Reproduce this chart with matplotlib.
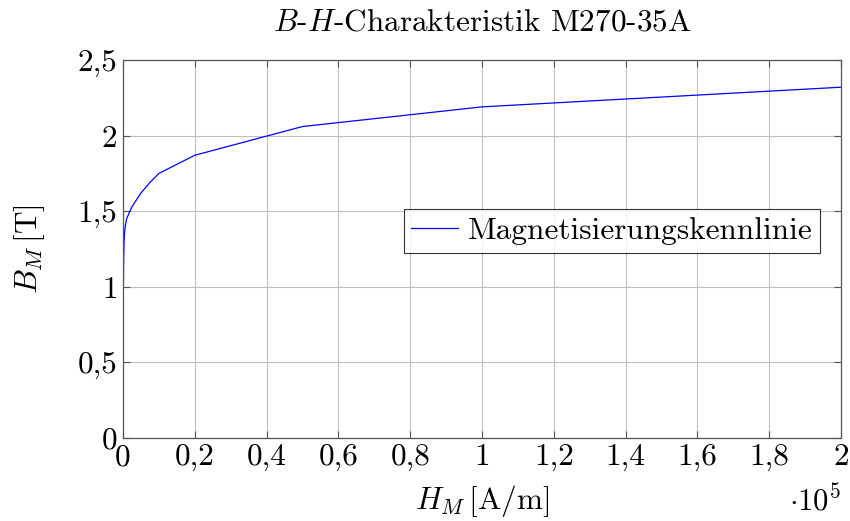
import matplotlib
matplotlib.use("Agg")
import matplotlib.pyplot as plt

# Magnetisierungskennlinie M270-35A
h_field = [0, 50, 100, 200, 300, 500, 1000, 2500, 5000, 7500, 10000, 20000, 50000, 100000, 200000]
b_field = [0, 0.6, 1.0, 1.2, 1.3, 1.38, 1.45, 1.53, 1.62, 1.69, 1.75, 1.87, 2.06, 2.19, 2.32]

x_ticks = [0, 20000, 40000, 60000, 80000, 100000, 120000, 140000, 160000, 180000, 200000]
x_labels = ["0", "0,2", "0,4", "0,6", "0,8", "1", "1,2", "1,4", "1,6", "1,8", "2"]
y_ticks = [0, 0.5, 1, 1.5, 2, 2.5]
y_labels = ["0", "0,5", "1", "1,5", "2", "2,5"]

plt.rcParams["font.family"] = "cmr10"
plt.rcParams["mathtext.fontset"] = "cm"
plt.rcParams["axes.unicode_minus"] = False

fig = plt.figure(figsize=(8.5, 5.21), dpi=100)
ax = fig.add_axes([123 / 850, 83 / 521, 718 / 850, 378 / 521])

ax.plot(h_field, b_field, color="#0000ff", linewidth=0.9, label="Magnetisierungskennlinie")

ax.set_xlim(0, 200000)
ax.set_ylim(0, 2.5)
ax.set_xticks(x_ticks)
ax.set_xticklabels(x_labels)
ax.set_yticks(y_ticks)
ax.set_yticklabels(y_labels)
ax.tick_params(direction="in", length=5, width=0.8, color="#555555",
               top=True, right=True, labelsize=22.5, pad=4)

ax.grid(True, color="#bfbfbf", linewidth=0.8)
ax.set_axisbelow(True)
for s in ax.spines.values():
    s.set_color("#555555")
    s.set_linewidth(0.9)

ax.set_title(r"$B$-$H$-Charakteristik M270-35A", fontsize=22.5, pad=21)
ax.set_xlabel(r"$H_M\,[\mathrm{A/m}]$", fontsize=22.5, labelpad=8)
ax.set_ylabel(r"$B_M\,[\mathrm{T}]$", fontsize=22.5, labelpad=22)
ax.text(1.0, -0.165, r"$\cdot 10^5$", transform=ax.transAxes,
        ha="right", va="center", fontsize=22)

leg = ax.legend(loc="center", bbox_to_anchor=(0.681, 0.548), fontsize=22.5,
                frameon=True, fancybox=False, handlelength=1.5,
                borderpad=0.25, borderaxespad=0, handletextpad=0.3)
leg.get_frame().set_edgecolor("black")
leg.get_frame().set_linewidth(0.8)

plt.savefig("out.png", dpi=100)
